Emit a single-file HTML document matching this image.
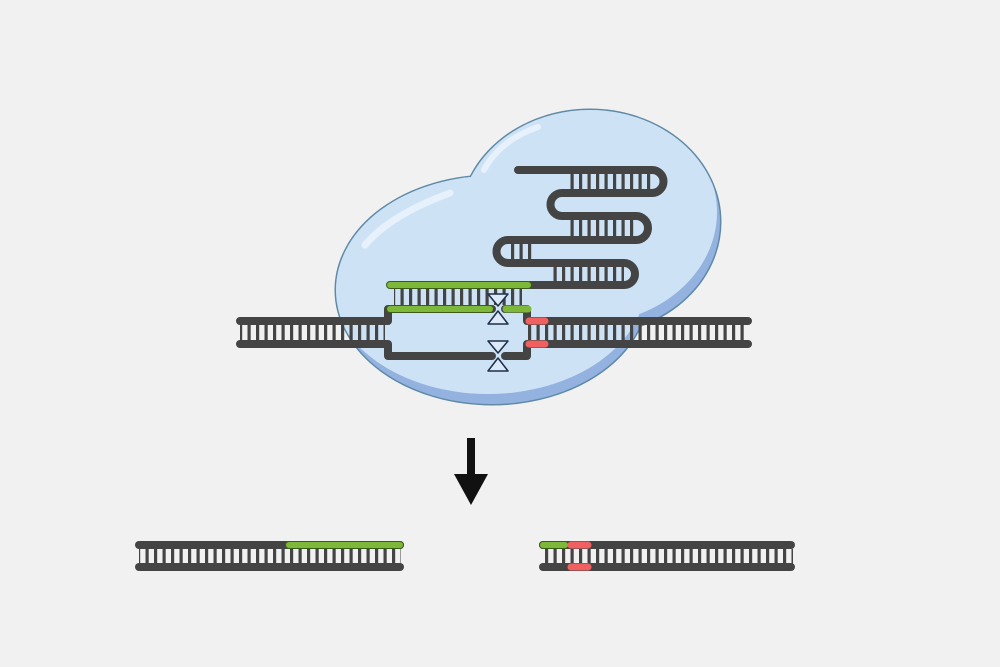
<!DOCTYPE html>
<html><head><style>html,body{margin:0;padding:0;background:#f1f1f1}svg{display:block}</style></head><body>
<svg width="1000" height="667" viewBox="0 0 1000 667" xmlns="http://www.w3.org/2000/svg">
<defs>
<pattern id="r" x="0" y="0" width="8.5" height="40" patternUnits="userSpaceOnUse"><rect x="1" y="0" width="3.2" height="40" fill="#444"/></pattern>
<clipPath id="blob"><ellipse cx="590" cy="222" rx="130" ry="112"/><ellipse cx="492" cy="290" rx="156" ry="114"/></clipPath>
</defs>
<rect width="1000" height="667" fill="#f1f1f1"/>
<!-- blob -->
<ellipse cx="590" cy="222" rx="130" ry="112" fill="none" stroke="#5f8aa6" stroke-width="3"/>
<ellipse cx="492" cy="290" rx="156" ry="114" fill="none" stroke="#5f8aa6" stroke-width="3"/>
<g clip-path="url(#blob)">
<rect x="300" y="100" width="450" height="320" fill="#93b2e0"/>
<ellipse cx="585" cy="212" rx="132" ry="112" fill="#cde3f5"/>
<ellipse cx="488" cy="282" rx="158" ry="112" fill="#cde3f5"/>
</g>
<path d="M365 245 Q390 215 450 193" stroke="#e6f1fc" stroke-width="7" fill="none" stroke-linecap="round"/>
<path d="M484 170 Q500 140 538 127" stroke="#e6f1fc" stroke-width="6" fill="none" stroke-linecap="round"/>
<!-- hairpin rungs -->
<rect x="567" y="174" width="85" height="15" fill="url(#r)"/>
<rect x="567" y="220" width="68" height="16" fill="url(#r)"/>
<rect x="508" y="244" width="28" height="15" fill="url(#r)"/>
<rect x="549" y="267" width="75" height="14" fill="url(#r)"/>
<path d="M518 170 H652 A11.5 11.5 0 0 1 652 193 H562 A11.5 11.5 0 0 0 562 216 H636 A12 12 0 0 1 636 240 H508 A11.5 11.5 0 0 0 508 263 H624 A11 11 0 0 1 624 285 H530" fill="none" stroke="#444" stroke-width="8" stroke-linecap="round" stroke-linejoin="round"/>
<!-- bubble rungs -->
<rect x="394" y="289" width="128" height="16" fill="url(#r)"/>
<!-- left/right duplex rungs -->
<rect x="240" y="325" width="145" height="15" fill="url(#r)"/>
<rect x="528" y="325" width="220" height="15" fill="url(#r)"/>
<!-- strands -->
<path d="M240 321 H388 V309 H492" fill="none" stroke="#444" stroke-width="8" stroke-linecap="round" stroke-linejoin="round"/>
<path d="M505 309 H527 V321 H748" fill="none" stroke="#444" stroke-width="8" stroke-linecap="round" stroke-linejoin="round"/>
<path d="M240 344 H388 V356 H492" fill="none" stroke="#444" stroke-width="8" stroke-linecap="round" stroke-linejoin="round"/>
<path d="M505 356 H527 V344 H748" fill="none" stroke="#444" stroke-width="8" stroke-linecap="round" stroke-linejoin="round"/>
<line x1="390" y1="285" x2="528" y2="285" stroke="#3c5a1a" stroke-width="8" stroke-linecap="round"/>
<line x1="390" y1="285" x2="528" y2="285" stroke="#7db83a" stroke-width="6" stroke-linecap="round"/>
<line x1="390" y1="309" x2="490" y2="309" stroke="#3c5a1a" stroke-width="8" stroke-linecap="round"/>
<line x1="390" y1="309" x2="490" y2="309" stroke="#7db83a" stroke-width="6" stroke-linecap="round"/>
<line x1="506" y1="309" x2="528" y2="309" stroke="#7db83a" stroke-width="7" stroke-linecap="round"/>
<line x1="529" y1="321" x2="545" y2="321" stroke="#f06060" stroke-width="7" stroke-linecap="round"/>
<line x1="529" y1="344" x2="545" y2="344" stroke="#f06060" stroke-width="7" stroke-linecap="round"/>
<!-- scissors -->
<g fill="#dbe9f8" stroke="#1e2f4a" stroke-width="1.5" stroke-linejoin="round">
<path d="M488 294 H508 L498 306 Z"/><path d="M488 324 H508 L498 311 Z"/>
<path d="M488 341 H508 L498 353 Z"/><path d="M488 371 H508 L498 358 Z"/>
</g>
<!-- arrow -->
<rect x="467" y="438" width="8" height="42" fill="#111"/>
<path d="M454 474 H488 L471 505 Z" fill="#111"/>
<!-- bottom left -->
<rect x="139" y="549" width="262" height="15" fill="url(#r)"/>
<line x1="139" y1="545" x2="400" y2="545" stroke="#444" stroke-width="8" stroke-linecap="round"/>
<line x1="139" y1="567" x2="400" y2="567" stroke="#444" stroke-width="8" stroke-linecap="round"/>
<line x1="289" y1="545" x2="400" y2="545" stroke="#3c5a1a" stroke-width="8" stroke-linecap="round"/>
<line x1="289" y1="545" x2="400" y2="545" stroke="#7db83a" stroke-width="6" stroke-linecap="round"/>
<!-- bottom right -->
<rect x="543" y="549" width="250" height="15" fill="url(#r)"/>
<line x1="543" y1="545" x2="791" y2="545" stroke="#444" stroke-width="8" stroke-linecap="round"/>
<line x1="543" y1="567" x2="791" y2="567" stroke="#444" stroke-width="8" stroke-linecap="round"/>
<line x1="543" y1="545" x2="565" y2="545" stroke="#3c5a1a" stroke-width="8" stroke-linecap="round"/>
<line x1="543" y1="545" x2="565" y2="545" stroke="#7db83a" stroke-width="6" stroke-linecap="round"/>
<line x1="571" y1="545" x2="588" y2="545" stroke="#f06060" stroke-width="7" stroke-linecap="round"/>
<line x1="571" y1="567" x2="588" y2="567" stroke="#f06060" stroke-width="7" stroke-linecap="round"/>
</svg>
</body></html>
